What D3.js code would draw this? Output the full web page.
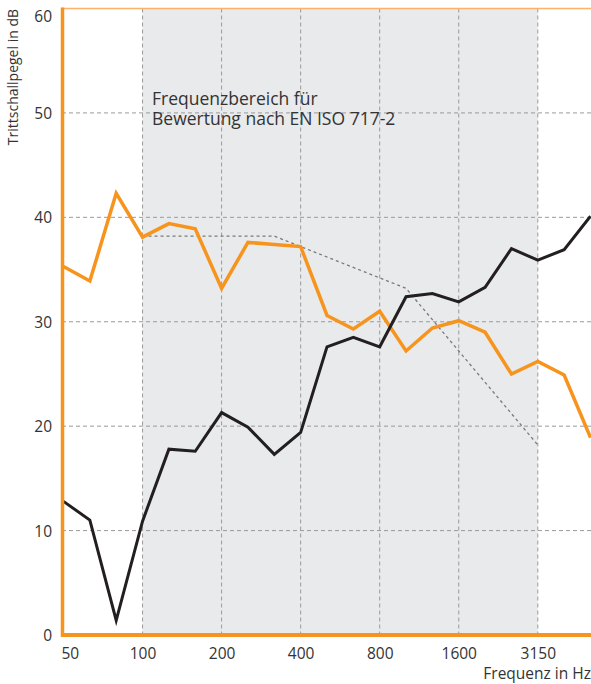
<!DOCTYPE html>
<html>
<head>
<meta charset="utf-8">
<script src="https://cdn.jsdelivr.net/npm/d3@7"></script>
<style>
  body { margin: 0; background: #fff; }
  text { font-family: "Open Sans", sans-serif; fill: #333; }
</style>
</head>
<body>
<svg></svg>
<script>
// Trittschallpegel vs. Frequenz (Terzbaender 50 - 5000 Hz)
const width = 591;
const height = 684;

const frequencies = [50, 63, 80, 100, 125, 160, 200, 250, 315, 400, 500, 630, 800, 1000, 1250, 1600, 2000, 2500, 3150, 4000, 5000];
const tickFreqs = [50, 100, 200, 400, 800, 1600, 3150];
const gridFreqs = [100, 200, 400, 800, 1600, 3150];
const yTicks = [0, 10, 20, 30, 40, 50, 60];

// orange curve
const orangeValues = [35.3, 33.9, 42.3, 38.1, 39.4, 38.9, 33.2, 37.6, 37.4, 37.2, 30.6, 29.3, 31.0, 27.2, 29.4, 30.1, 29.0, 25.0, 26.2, 24.9, 18.9];
// black curve
const blackValues = [12.8, 11.0, 1.4, 10.9, 17.8, 17.6, 21.3, 19.9, 17.3, 19.4, 27.6, 28.5, 27.6, 32.4, 32.7, 31.9, 33.3, 37.0, 35.9, 36.9, 40.1];
// shifted reference curve EN ISO 717-2 (100 - 3150 Hz)
const refFreqs = [100, 125, 160, 200, 250, 315, 400, 500, 630, 800, 1000, 1250, 1600, 2000, 2500, 3150];
const refValues = [38.2, 38.2, 38.2, 38.2, 38.2, 38.2, 37.2, 36.2, 35.2, 34.2, 33.2, 30.2, 27.2, 24.2, 21.2, 18.2];

const svg = d3.select("svg")
    .attr("width", width)
    .attr("height", height);

const x = d3.scalePoint()
    .domain(frequencies)
    .range([63.5, 590.5]);

const y = d3.scaleLinear()
    .domain([0, 60])
    .range([635, 8.5]);

// grey band for evaluation range
svg.append("rect")
    .attr("x", x(100))
    .attr("y", y(60))
    .attr("width", x(3150) - x(100))
    .attr("height", y(0) - y(60))
    .attr("fill", "#e9eaec");

// horizontal grid
svg.append("g")
  .selectAll("line")
  .data(yTicks.filter(d => d > 0 && d < 60))
  .enter().append("line")
    .attr("x1", 62)
    .attr("x2", width)
    .attr("y1", d => y(d))
    .attr("y2", d => y(d))
    .attr("stroke", "#9a9a9a")
    .attr("stroke-width", 1)
    .attr("stroke-dasharray", "4,3");

// vertical grid
svg.append("g")
  .selectAll("line")
  .data(gridFreqs)
  .enter().append("line")
    .attr("x1", d => x(d))
    .attr("x2", d => x(d))
    .attr("y1", y(60))
    .attr("y2", y(0))
    .attr("stroke", "#9a9a9a")
    .attr("stroke-width", 1)
    .attr("stroke-dasharray", "4,3");

// annotation (two lines)
svg.append("text")
    .attr("x", 152)
    .attr("y", 105)
    .style("font-size", "17.5px")
    .text("Frequenzbereich für");
svg.append("text")
    .attr("x", 152)
    .attr("y", 124.5)
    .style("font-size", "17.5px")
    .text("Bewertung nach EN ISO 717-2");

const line = d3.line()
    .x(d => x(d[0]))
    .y(d => y(d[1]));

// reference curve
svg.append("path")
    .datum(d3.zip(refFreqs, refValues))
    .attr("d", line)
    .attr("fill", "none")
    .attr("stroke", "#7a7a7a")
    .attr("stroke-width", 1.3)
    .attr("stroke-dasharray", "3,3");

svg.append("path")
    .datum(d3.zip(frequencies, orangeValues))
    .attr("d", line)
    .attr("fill", "none")
    .attr("stroke", "#f7941d")
    .attr("stroke-width", 3.5)
    .attr("stroke-linejoin", "miter");

svg.append("path")
    .datum(d3.zip(frequencies, blackValues))
    .attr("d", line)
    .attr("fill", "none")
    .attr("stroke", "#231f20")
    .attr("stroke-width", 3)
    .attr("stroke-linejoin", "miter");

// frame lines
svg.append("line")
    .attr("x1", 62).attr("x2", width)
    .attr("y1", y(60)).attr("y2", y(60))
    .attr("stroke", "#fbb36a")
    .attr("stroke-width", 1.5);

svg.append("line")
    .attr("x1", 62.5).attr("x2", 62.5)
    .attr("y1", y(60) - 1).attr("y2", y(0) + 2)
    .attr("stroke", "#f7941d")
    .attr("stroke-width", 3.5);

svg.append("line")
    .attr("x1", 61).attr("x2", width)
    .attr("y1", y(0)).attr("y2", y(0))
    .attr("stroke", "#f7941d")
    .attr("stroke-width", 4);

// axes
const xAxis = svg.append("g")
    .attr("transform", `translate(0, ${y(0)})`)
    .call(d3.axisBottom(x).tickValues(tickFreqs).tickSize(0).tickPadding(0));
xAxis.select(".domain").remove();
xAxis.selectAll("text")
    .attr("y", 24)
    .attr("dy", 0)
    .style("font-size", "15.5px")
    .style("font-family", "'Open Sans', sans-serif")
    .attr("fill", "#333");
xAxis.selectAll("text").filter(d => d === 50)
    .attr("text-anchor", "start")
    .attr("x", -2.5);

const yAxis = svg.append("g")
    .attr("transform", "translate(52, 0)")
    .call(d3.axisLeft(y).tickValues(yTicks).tickSize(0).tickPadding(0));
yAxis.select(".domain").remove();
yAxis.selectAll("text")
    .attr("x", 0)
    .attr("dy", "0.36em")
    .style("font-size", "15.5px")
    .style("font-family", "'Open Sans', sans-serif")
    .attr("fill", "#333");
yAxis.selectAll("text").filter(d => d === 60)
    .attr("dy", "0.85em");

// axis titles
svg.append("text")
    .attr("x", width)
    .attr("y", 679)
    .attr("text-anchor", "end")
    .style("font-size", "15.5px")
    .text("Frequenz in Hz");

svg.append("text")
    .attr("transform", "translate(18, 9) rotate(-90)")
    .attr("text-anchor", "end")
    .style("font-size", "14px")
    .text("Trittschallpegel in dB");
</script>
</body>
</html>
